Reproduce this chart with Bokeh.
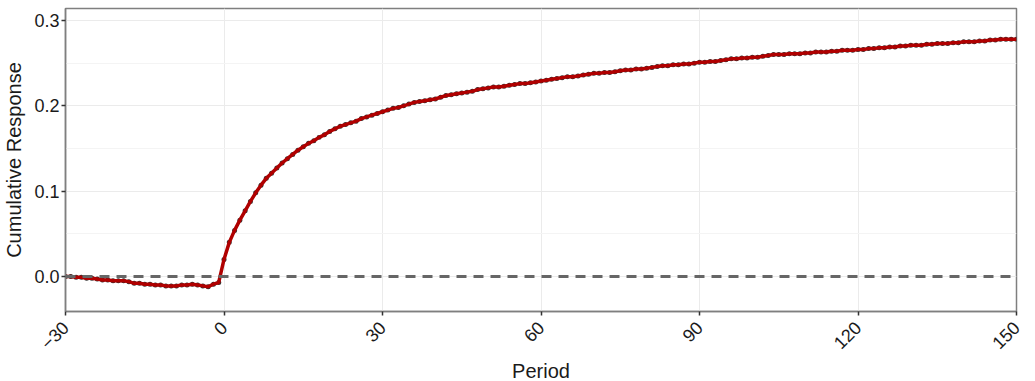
import math
from bokeh.plotting import figure
from bokeh.models import FixedTicker, Span, ColumnDataSource, CustomJSTickFormatter
from bokeh.embed import file_html
from bokeh.resources import INLINE

periods = list(range(-30, 151))
response = [
    0.000, 0.000, -0.001, -0.001, -0.002, -0.002, -0.003, -0.004, -0.004, -0.005,
    -0.005, -0.005, -0.006, -0.008, -0.008, -0.009, -0.009, -0.010, -0.010, -0.011,
    -0.011, -0.011, -0.010, -0.010, -0.009, -0.010, -0.011, -0.012, -0.009, -0.007,
    0.020, 0.040, 0.054, 0.066, 0.077, 0.088, 0.098, 0.107, 0.115, 0.121,
    0.127, 0.133, 0.138, 0.143, 0.148, 0.152, 0.156, 0.159, 0.163, 0.166,
    0.170, 0.173, 0.176, 0.178, 0.180, 0.182, 0.185, 0.187, 0.189, 0.191,
    0.193, 0.195, 0.197, 0.198, 0.200, 0.202, 0.204, 0.205, 0.206, 0.207,
    0.208, 0.210, 0.212, 0.213, 0.214, 0.215, 0.216, 0.217, 0.219, 0.220,
    0.221, 0.222, 0.222, 0.223, 0.224, 0.225, 0.226, 0.226, 0.227, 0.228,
    0.229, 0.230, 0.231, 0.232, 0.233, 0.234, 0.234, 0.235, 0.236, 0.237,
    0.238, 0.238, 0.239, 0.239, 0.240, 0.241, 0.242, 0.242, 0.243, 0.243,
    0.244, 0.245, 0.246, 0.247, 0.247, 0.248, 0.248, 0.249, 0.249, 0.250,
    0.251, 0.251, 0.252, 0.252, 0.253, 0.254, 0.255, 0.255, 0.256, 0.256,
    0.257, 0.257, 0.258, 0.259, 0.260, 0.260, 0.260, 0.261, 0.261, 0.261,
    0.262, 0.262, 0.263, 0.263, 0.263, 0.264, 0.264, 0.265, 0.265, 0.265,
    0.266, 0.266, 0.267, 0.267, 0.268, 0.268, 0.269, 0.269, 0.270, 0.270,
    0.271, 0.271, 0.271, 0.272, 0.272, 0.273, 0.273, 0.273, 0.274, 0.274,
    0.275, 0.275, 0.275, 0.276, 0.276, 0.277, 0.277, 0.278, 0.278, 0.278,
    0.278,
]
x_ticks = [-30, 0, 30, 60, 90, 120, 150]
y_ticks = [0.0, 0.1, 0.2, 0.3]
y_minor = [-0.05, 0.05, 0.15, 0.25]

src = ColumnDataSource(data=dict(period=periods, response=response))

p = figure(
    frame_width=951, frame_height=303,
    x_range=(-30, 150), y_range=(-0.041, 0.314),
    output_backend="svg", toolbar_location=None,
    min_border_left=2, min_border_top=8, min_border_right=12, min_border_bottom=2,
)
p.background_fill_color = "white"
p.border_fill_color = "white"
p.outline_line_color = "#7f7f7f"
p.outline_line_width = 1.5

p.xaxis.ticker = FixedTicker(ticks=x_ticks)
p.yaxis.ticker = FixedTicker(ticks=y_ticks, minor_ticks=y_minor)
p.yaxis.formatter = CustomJSTickFormatter(code="return tick.toFixed(1);")

p.xgrid.grid_line_color = "#ebebeb"
p.ygrid.grid_line_color = "#ebebeb"
p.ygrid.minor_grid_line_color = "#f4f4f4"

for ax in (p.xaxis, p.yaxis):
    ax.axis_line_color = "#7f7f7f"
    ax.axis_line_width = 1.5
    ax.major_tick_line_color = "#333333"
    ax.major_tick_line_width = 1.5
    ax.major_tick_in = 0
    ax.major_tick_out = 4
    ax.minor_tick_line_color = None
    ax.major_label_text_font = "Liberation Sans"
    ax.major_label_text_font_size = "18px"
    ax.major_label_text_color = "#1a1a1a"
    ax.axis_label_text_font = "Liberation Sans"
    ax.axis_label_text_font_size = "20px"
    ax.axis_label_text_font_style = "normal"
    ax.axis_label_text_color = "#1a1a1a"

p.xaxis.axis_label = "Period"
p.yaxis.axis_label = "Cumulative Response"
p.xaxis.major_label_orientation = math.pi / 4
p.yaxis.axis_label_standoff = 6
p.yaxis.major_label_standoff = 2
p.xaxis.major_label_standoff = 9
p.xaxis.axis_label_standoff = 2

zero = Span(location=0, dimension="width", line_color="#666666",
            line_width=3, line_dash="10 7")
p.add_layout(zero)

p.scatter("period", "response", source=src, size=5, marker="circle",
          fill_color="#333333", line_color=None)
p.line("period", "response", source=src, line_color="#b00000", line_width=3.5)

open("out.html", "w").write(file_html(p, INLINE))
